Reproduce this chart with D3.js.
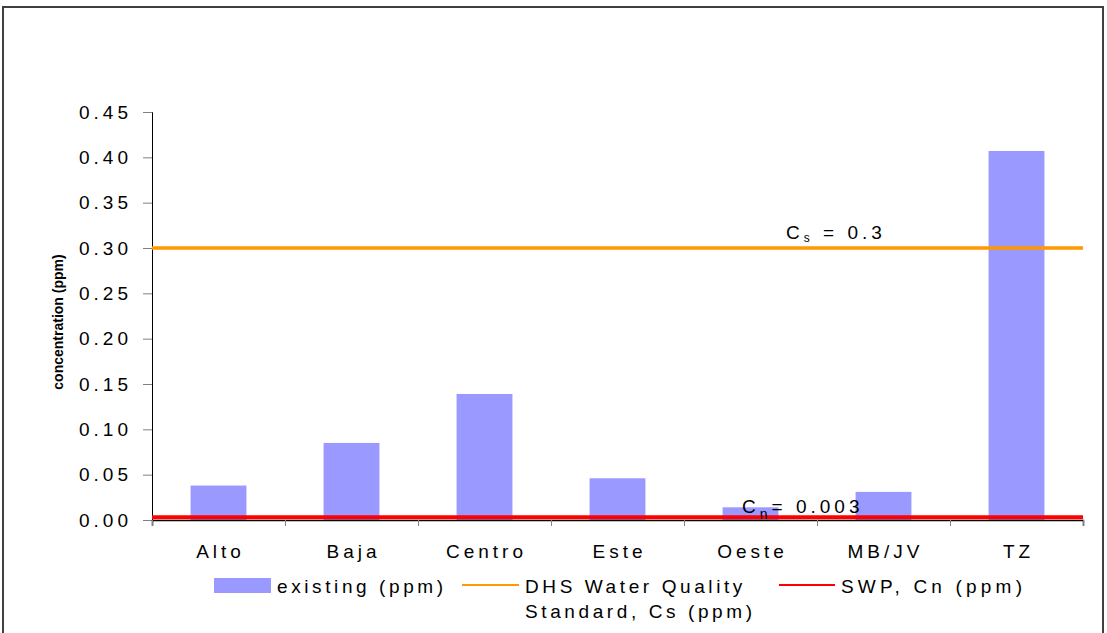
<!DOCTYPE html>
<html>
<head>
<meta charset="utf-8">
<script src="https://cdn.jsdelivr.net/npm/d3@7"></script>
<style>
  body { margin: 0; background: #fff; }
  text { font-family: "Liberation Sans", Arial, sans-serif; fill: #000; }
</style>
</head>
<body>
<div id="chart"></div>
<script>
// values
const categories = ["Alto", "Baja", "Centro", "Este", "Oeste", "MB/JV", "TZ"];
const existing = [0.038, 0.085, 0.139, 0.046, 0.014, 0.031, 0.407];
const standardCs = 0.3;
const swpCn = 0.003;
const yTicks = [0, 0.05, 0.10, 0.15, 0.20, 0.25, 0.30, 0.35, 0.40, 0.45];
const legendLabels = ["existing (ppm)", "DHS Water Quality", "SWP, Cn (ppm)"];

var width = 1107, height = 633;
var plot = {left: 152, right: 1083, top: 112, bottom: 520};
var fs = '19px', ls = '4px';

const svg = d3.select('#chart')
    .append('svg')
    .attr('width', width)
    .attr('height', height);

// outer frame
svg.append('rect')
    .attr('x', 3).attr('y', 7)
    .attr('width', 1100).attr('height', 700)
    .attr('fill', 'none')
    .attr('stroke', '#404040')
    .attr('stroke-width', 2);

var y = d3.scaleLinear().domain([0, 0.45]).range([plot.bottom, plot.top]);
var x = d3.scaleBand().domain(categories)
    .range([plot.left, plot.right])
    .paddingInner(0.58).paddingOuter(0.29);
var xEdge = d3.scaleLinear().domain([0, categories.length])
    .range([plot.left, plot.right]);

// bars
svg.append('g')
    .selectAll('rect')
    .data(existing)
    .join('rect')
    .attr('x', (d, i) => x(categories[i]))
    .attr('y', d => y(d))
    .attr('width', x.bandwidth())
    .attr('height', d => y(0) - y(d))
    .attr('fill', '#9999FF');

// y axis
const yAxis = svg.append('g')
    .attr('transform', 'translate(' + plot.left + ',0)')
    .call(d3.axisLeft(y).tickValues(yTicks).tickSize(9).tickPadding(11)
        .tickFormat(d3.format('.2f')));
yAxis.select('.domain').attr('stroke', '#000');
yAxis.selectAll('.tick line').attr('stroke', '#808080');
yAxis.selectAll('.tick text')
    .style('font-size', fs)
    .style('letter-spacing', ls)
    .style('font-family', '"Liberation Sans", Arial, sans-serif');

// x axis (ticks on category edges)
const xAxis = svg.append('g')
    .attr('transform', 'translate(0,' + plot.bottom + ')')
    .call(d3.axisBottom(xEdge).tickValues(d3.range(categories.length + 1))
        .tickSize(6).tickFormat(''));
xAxis.select('.domain').attr('stroke', '#000').attr('stroke-width', 1.5);
xAxis.selectAll('.tick line').attr('stroke', '#808080');

svg.append('g')
    .selectAll('text')
    .data(categories)
    .join('text')
    .attr('x', d => x(d) + x.bandwidth() / 2 + 2)
    .attr('y', 558)
    .attr('text-anchor', 'middle')
    .style('font-size', fs)
    .style('letter-spacing', ls)
    .text(d => d);

// reference lines
svg.append('line')
    .attr('x1', plot.left).attr('x2', plot.right)
    .attr('y1', y(standardCs)).attr('y2', y(standardCs))
    .attr('stroke', '#FF9900').attr('stroke-width', 3.5);
svg.append('line')
    .attr('x1', plot.left).attr('x2', plot.right)
    .attr('y1', y(swpCn)).attr('y2', y(swpCn))
    .attr('stroke', '#FF0000').attr('stroke-width', 4);

// annotations
var cs = svg.append('text')
    .attr('x', 786).attr('y', y(standardCs) - 9)
    .style('font-size', fs)
    .style('letter-spacing', '4px');
cs.append('tspan').text('C');
cs.append('tspan').attr('dy', 3).style('font-size', '12px').text('s');
cs.append('tspan').attr('dy', -3).text(' = 0.3');

var cn = svg.append('text')
    .attr('x', 742).attr('y', y(swpCn) - 4)
    .style('font-size', fs)
    .style('letter-spacing', '4px');
cn.append('tspan').text('C');
cn.append('tspan').attr('dy', 6).style('font-size', '14px').text('n');
cn.append('tspan').attr('dy', -6).text('= 0.003');

// y axis title
svg.append('text')
    .attr('transform', 'translate(63,' + ((plot.top + plot.bottom) / 2 + 6) + ') rotate(-90)')
    .attr('text-anchor', 'middle')
    .style('font-size', '14px')
    .style('font-weight', 'bold')
    .text('concentration (ppm)');

// legend
const leg = svg.append('g');
leg.append('rect')
    .attr('x', 214).attr('y', 578).attr('width', 57).attr('height', 15)
    .attr('fill', '#9999FF');
leg.append('text').attr('x', 277).attr('y', 593)
    .style('font-size', fs).style('letter-spacing', '3.6px')
    .text(legendLabels[0]);
leg.append('line')
    .attr('x1', 462).attr('x2', 519).attr('y1', 585).attr('y2', 585)
    .attr('stroke', '#FF9900').attr('stroke-width', 2);
leg.append('text').attr('x', 525).attr('y', 593)
    .style('font-size', fs).style('letter-spacing', '3.6px')
    .text(legendLabels[1]);
leg.append('text').attr('x', 525).attr('y', 618)
    .style('font-size', fs).style('letter-spacing', '3.6px')
    .text('Standard, Cs (ppm)');
leg.append('line')
    .attr('x1', 779).attr('x2', 835).attr('y1', 585).attr('y2', 585)
    .attr('stroke', '#FF0000').attr('stroke-width', 2);
leg.append('text').attr('x', 841).attr('y', 593)
    .style('font-size', fs).style('letter-spacing', '4.2px')
    .text(legendLabels[2]);
</script>
</body>
</html>
